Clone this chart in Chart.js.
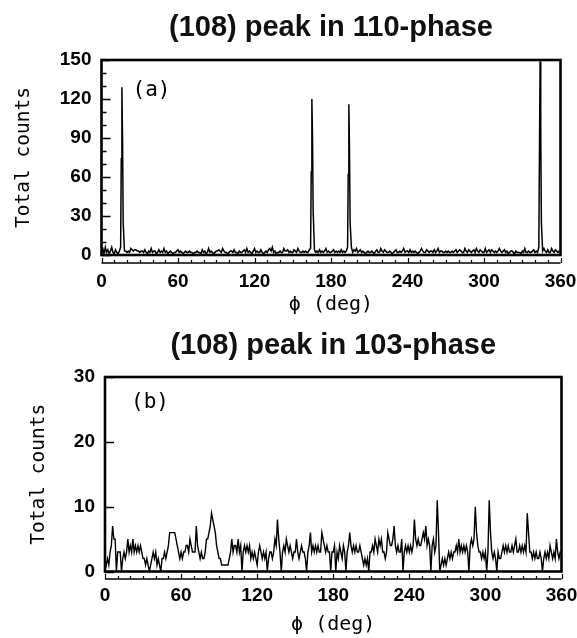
<!DOCTYPE html>
<html><head><meta charset="utf-8">
<script src="https://cdn.jsdelivr.net/npm/chart.js@4.4.1/dist/chart.umd.min.js"></script>
<style>
html,body{margin:0;padding:0;background:#fff;}
#wrap{position:relative;width:577px;height:638px;background:#fff;}
#ca{position:absolute;left:0;top:0;}
#cb{position:absolute;left:0;top:320px;}
</style></head><body>
<div id="wrap"><canvas id="ca" width="577" height="320"></canvas><canvas id="cb" width="577" height="318"></canvas></div>
<script>
// ---------- data ----------
const titleA = "(108) peak in 110-phase";
const titleB = "(108) peak in 103-phase";
const panelA = "(a)";
const panelB = "(b)";
const yTitle = "Total counts";
const xTitle = "\u03D5 (deg)";
const xTicks = [0, 60, 120, 180, 240, 300, 360];
const yTicksA = [0, 30, 60, 90, 120, 150];
const yTicksB = [0, 10, 20, 30];

// panel (a): background counts at each whole degree 0..360
const baseA = [
 2,5,1,6,2,4,1,3,6,2, 1,4,2,1,3,6,9,9,3,3, 2,3,2,5,4,3,4,4,3,3, 2,3,3,2,4,2,1,3,2,5,
 2,3,3,1,2,4,2,3,2,5, 2,3,1,2,3,2,1,2,2,3, 4,2,3,2,1,2,3,2,2,3, 2,2,1,2,2,3,2,2,1,4,
 2,3,1,2,5,2,3,2,1,2, 3,3,4,3,2,5,3,2,2,1, 2,3,3,2,4,2,2,1,3,2, 2,3,4,2,5,2,3,2,1,3,
 5,2,3,2,2,4,2,1,2,3, 2,4,5,3,6,2,3,1,2,2, 3,2,2,5,3,3,4,2,3,2, 2,4,3,2,5,3,2,2,3,2,
 3,2,2,4,5,9,9,4,2,3, 2,4,2,3,2,3,5,2,3,2, 2,3,4,2,3,2,3,2,4,2, 3,2,3,6,9,9,6,2,4,3,
 5,2,3,4,2,3,2,1,2,3, 2,2,3,2,1,3,4,2,2,5, 3,2,4,3,2,2,3,2,1,2, 3,4,2,2,3,2,3,5,2,3,
 3,2,4,2,3,2,3,2,1,2, 3,5,3,2,2,4,3,2,3,3, 2,4,2,3,5,2,3,3,2,2, 3,2,3,2,2,3,2,3,4,2,
 3,4,3,2,2,5,3,2,4,3, 2,3,4,2,5,3,2,4,3,2, 2,5,2,3,4,2,4,3,2,3, 2,3,5,3,2,3,4,2,3,1,
 2,3,3,2,1,3,2,2,2,1, 3,2,5,2,2,3,2,2,3,4, 2,3,2,6,9,9,3,5,3,2, 4,2,2,5,3,2,4,3,2,3,
 3
];
// panel (a): the four Bragg peaks, finer steps
const peakPhiA    = [15, 15.5, 16, 16.5, 17,  164.5, 165, 165.5, 166,  193, 193.5, 194, 194.5, 195,  343, 343.5, 344, 344.5, 345];
const peakCountsA = [ 6,   74,129,   90, 25,     64, 120,    91,  34,    6,    62, 116,    81,  25,    6,    80, 149,    96,  25];

// panel (b): counts at each whole degree 0..360
const countsB = [
 2,1,2,1,3,4,7,5,5,0, 3,3,3,0,2,3,2,3,5,3, 4,3,5,3,4,3,4,3,4,3, 2,2,1,2,1,0,1,2,3,2,
 3,1,2,1,0,2,2,3,2,3, 4,6,6,6,6,6,5,4,3,2, 3,2,3,3,4,4,3,5,4,3, 3,3,7,4,3,2,3,2,2,3,
 5,5,6,7,9,8,7,6,4,3, 2,2,1,1,1,1,1,1,2,3, 5,3,4,4,3,5,3,4,0,3, 4,3,4,3,4,2,3,2,3,2,
 1,3,4,3,2,3,2,3,0,2, 3,3,2,3,5,4,8,5,3,0, 3,4,3,5,4,3,4,3,2,3, 3,5,3,2,3,4,3,3,2,0,
 3,4,6,3,4,3,4,3,4,3, 3,6,5,4,3,4,3,3,0,3, 3,4,0,3,2,4,3,2,4,3, 0,3,4,6,4,3,4,3,4,3,
 3,4,3,2,1,2,1,2,0,3, 3,4,3,5,4,3,5,4,5,3, 3,2,3,6,5,4,4,5,7,4, 3,4,3,3,5,0,3,4,3,4,
 3,4,3,4,8,5,4,5,4,4, 5,6,5,7,4,5,4,0,4,5, 3,4,11,6,0,1,2,1,2,1, 2,3,2,3,2,3,3,4,3,5,
 3,4,3,4,3,4,3,0,4,5, 4,5,10,6,4,3,3,2,3,2, 3,0,3,11,6,3,2,3,2,0, 3,2,2,3,4,3,4,3,4,3,
 3,4,3,4,5,3,3,4,3,4, 3,4,3,9,6,3,3,2,3,2, 3,2,2,3,2,0,2,3,2,3, 2,4,3,2,3,2,5,3,2,3,
 3
];

// ---------- build tables ----------
const pointsA = baseA.map((c, i) => ({x: i, y: c}))
  .filter(p => !peakPhiA.includes(p.x))
  .concat(peakPhiA.map((x, k) => ({x: x, y: peakCountsA[k]})))
  .sort((a, b) => a.x - b.x);
const pointsB = countsB.map((c, i) => ({x: i, y: c}));

// ---------- styling helpers ----------
const tickFont = {family: "'Liberation Sans', Arial, sans-serif", size: 19, weight: 'bold', lineHeight: 1};
const monoFont = {family: "'DejaVu Sans Mono', monospace", size: 19.5, weight: 'normal', lineHeight: 1};

const framePlugin = {
  id: 'frame',
  afterDraw(chart, args, o) {
    const {ctx, chartArea: a, scales} = chart;
    const xs = scales.x, ys = scales.y;
    ctx.save();
    ctx.strokeStyle = '#000';
    ctx.lineCap = 'butt';
    // frame
    ctx.lineWidth = 2.6;
    ctx.strokeRect(a.left, a.top, a.right - a.left, a.bottom - a.top);
    // inward y ticks
    ctx.lineWidth = 1.4;
    ctx.beginPath();
    for (let v = ys.min; v <= ys.max; v += o.yMinor) {
      const yp = Math.round(ys.getPixelForValue(v)) + 0.5;
      const major = o.yMajor.includes(v);
      if (!major && !o.showMinorY) continue;
      ctx.moveTo(a.left, yp);
      ctx.lineTo(a.left + (major ? 9 : 5), yp);
    }
    ctx.stroke();
    // detached x axis line
    const ay = a.bottom + o.axisGap;
    ctx.lineWidth = 1.6;
    ctx.beginPath();
    ctx.moveTo(xs.getPixelForValue(xs.min), ay);
    ctx.lineTo(xs.getPixelForValue(xs.max), ay);
    ctx.stroke();
    ctx.lineWidth = 1.2;
    ctx.beginPath();
    for (let v = xs.min; v <= xs.max; v += o.xMinor) {
      const xp = Math.round(xs.getPixelForValue(v)) + 0.5;
      const major = xTicks.includes(v);
      ctx.moveTo(xp, ay);
      ctx.lineTo(xp, ay - (major ? 5 : 3));
    }
    ctx.stroke();
    // panel label
    ctx.fillStyle = '#000';
    ctx.font = "21px 'DejaVu Sans Mono', monospace";
    ctx.textAlign = 'center';
    ctx.textBaseline = 'middle';
    ctx.fillText(o.label, a.left + o.labelDx, a.top + o.labelDy);
    ctx.restore();
  }
};

function makeChart(id, points, title, titlePad, yMax, yTicks, geo) {
  return new Chart(document.getElementById(id), {
    type: 'line',
    data: {datasets: [{
      data: points,
      borderColor: '#000',
      borderWidth: geo.lineW,
      pointRadius: 0,
      tension: 0,
      fill: false
    }]},
    options: {
      responsive: false,
      animation: false,
      events: [],
      layout: {padding: {left: 0, right: geo.padRight, top: 0, bottom: 0}},
      plugins: {
        legend: {display: false},
        tooltip: {enabled: false},
        title: {
          display: true, text: title, color: '#111',
          fullSize: false,
          font: {family: "'Liberation Sans', Arial, sans-serif", size: 29, weight: 'bold', lineHeight: 1},
          padding: titlePad
        },
        frame: geo.frame
      },
      scales: {
        x: {
          type: 'linear', min: 0, max: 360,
          afterBuildTicks: s => { s.ticks = xTicks.map(v => ({value: v})); },
          ticks: {color: '#000', font: tickFont, padding: geo.xLabelPad, maxRotation: 0, autoSkip: false},
          grid: {display: false, drawTicks: false},
          border: {display: false},
          title: {display: true, text: xTitle, color: '#000', font: {family: "'DejaVu Sans Mono', monospace", size: 20, lineHeight: 1}, padding: {top: 0, bottom: geo.xTitlePad}},
          afterFit: s => { s.height = geo.xHeight; s.paddingLeft = 0; s.paddingRight = 0; }
        },
        y: {
          min: 0, max: yMax,
          afterBuildTicks: s => { s.ticks = yTicks.map(v => ({value: v})); },
          ticks: {color: '#000', font: tickFont, padding: 10},
          grid: {display: false, drawTicks: false},
          border: {display: false},
          title: {display: true, text: yTitle, color: '#000', font: monoFont, padding: {top: geo.yTitlePad, bottom: 0}},
          afterFit: s => { s.width = geo.yWidth; s.paddingTop = 0; s.paddingBottom = 0; }
        }
      }
    },
    plugins: [framePlugin]
  });
}

makeChart('ca', pointsA, titleA, {top: 13, bottom: 18}, 150, yTicksA, {
  lineW: 1.5, padRight: 16.5, xHeight: 65, yWidth: 101.5, xLabelPad: 17.5, xTitlePad: 5, yTitlePad: 14,
  frame: {yMajor: yTicksA, yMinor: 10, showMinorY: true, axisGap: 8, xMinor: 10, label: panelA, labelDx: 50, labelDy: 31}
});
makeChart('cb', pointsB, titleB, {top: 11, bottom: 17}, 30, yTicksB, {
  lineW: 1.4, padRight: 15.5, xHeight: 66.5, yWidth: 105, xLabelPad: 15, xTitlePad: 3, yTitlePad: 29,
  frame: {yMajor: yTicksB, yMinor: 10, showMinorY: false, axisGap: 7.5, xMinor: 10, label: panelB, labelDx: 45, labelDy: 26}
});
</script>
</body></html>
